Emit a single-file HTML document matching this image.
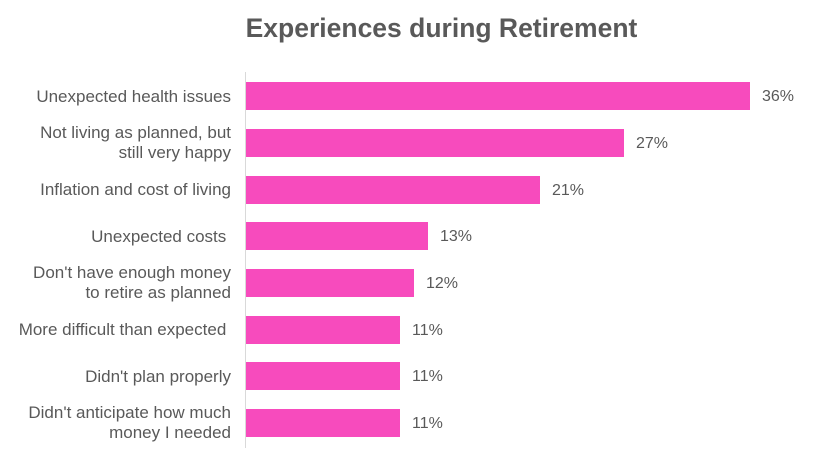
<!DOCTYPE html>
<html><head><style>
html,body{margin:0;padding:0;background:#fff;}
body{width:823px;height:466px;position:relative;overflow:hidden;font-family:"Liberation Sans",sans-serif;color:#595959;}
.t{position:absolute;left:0;width:883px;text-align:center;top:13px;font-size:26.5px;font-weight:bold;color:#595959;}
.ax{position:absolute;left:245px;top:72px;width:1px;height:376px;background:#d9d9d9;}
.b{position:absolute;left:246px;height:28px;background:#f74bbd;}
.v{position:absolute;font-size:16px;line-height:30px;}
.l{position:absolute;right:592px;font-size:17px;text-align:right;line-height:20px;white-space:nowrap;}
</style></head><body>
<div class="t">Experiences during Retirement</div>
<div class="ax"></div>

<div class="b" style="top:82px;width:504px"></div><div class="v" style="top:82px;left:762px">36%</div>
<div class="l" style="top:87px">Unexpected health issues</div>

<div class="b" style="top:129px;width:378px"></div><div class="v" style="top:129px;left:636px">27%</div>
<div class="l" style="top:123px">Not living as planned, but<br>still very happy</div>

<div class="b" style="top:176px;width:294px"></div><div class="v" style="top:176px;left:552px">21%</div>
<div class="l" style="top:180px">Inflation and cost of living</div>

<div class="b" style="top:222px;width:182px"></div><div class="v" style="top:222px;left:440px">13%</div>
<div class="l" style="top:227px">Unexpected costs&nbsp;</div>

<div class="b" style="top:269px;width:168px"></div><div class="v" style="top:269px;left:426px">12%</div>
<div class="l" style="top:263px">Don't have enough money<br>to retire as planned</div>

<div class="b" style="top:316px;width:154px"></div><div class="v" style="top:316px;left:412px">11%</div>
<div class="l" style="top:320px">More difficult than expected&nbsp;</div>

<div class="b" style="top:362px;width:154px"></div><div class="v" style="top:362px;left:412px">11%</div>
<div class="l" style="top:367px">Didn't plan properly</div>

<div class="b" style="top:409px;width:154px"></div><div class="v" style="top:409px;left:412px">11%</div>
<div class="l" style="top:403px">Didn't anticipate how much<br>money I needed</div>
</body></html>
